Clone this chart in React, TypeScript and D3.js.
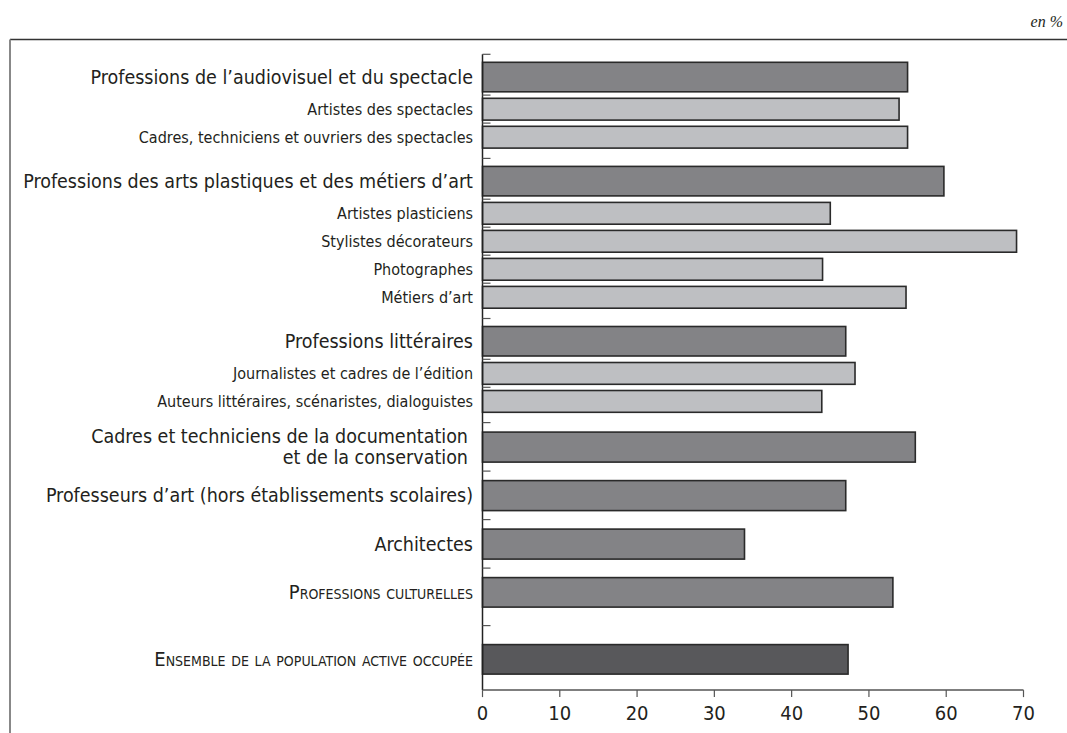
import React from 'react';
import * as d3 from 'd3';

const labels: string[] = [
  "Professions de l\u2019audiovisuel et du spectacle",
  "Artistes des spectacles",
  "Cadres, techniciens et ouvriers des spectacles",
  "Professions des arts plastiques et des m\u00e9tiers d\u2019art",
  "Artistes plasticiens",
  "Stylistes d\u00e9corateurs",
  "Photographes",
  "M\u00e9tiers d\u2019art",
  "Professions litt\u00e9raires",
  "Journalistes et cadres de l\u2019\u00e9dition",
  "Auteurs litt\u00e9raires, sc\u00e9naristes, dialoguistes",
  "Cadres et techniciens de la documentation\net de la conservation",
  "Professeurs d\u2019art (hors \u00e9tablissements scolaires)",
  "Architectes",
  "Professions culturelles",
  "Ensemble de la population active occup\u00e9e",
];
const values: number[] = [55, 53.9, 55, 59.7, 45, 69.1, 44, 54.8, 47, 48.2, 43.9, 56, 47, 33.9, 53.1, 47.3];
const kinds: string[] = ['group', 'sub', 'sub', 'group', 'sub', 'sub', 'sub', 'sub', 'group', 'sub', 'sub', 'single', 'single', 'single', 'summary', 'total'];
const xTicks: number[] = [0, 10, 20, 30, 40, 50, 60, 70];
const unitLabel = 'en %';

const W = 1067;
const H = 733;
const FONT = "'DejaVu Sans Condensed', 'DejaVu Sans', sans-serif";

const layout: Record<string, [number, number, number]> = {
  group: [8, 29.5, 3.3],
  sub: [3.2, 21.8, 3],
  single: [9.5, 30, 9],
  summary: [9.5, 29.5, 18.5],
  total: [19, 29.5, 16],
};
const fills: Record<string, string> = {
  group: '#838386',
  sub: '#bebfc2',
  single: '#838386',
  summary: '#838386',
  total: '#58585b',
};

export default function App() {
  const x = d3.scaleLinear().domain([0, 70]).range([482.5, 1023.5]);
  const y0 = 54.3;
  let cur = y0;
  const rows = labels.map((lab, i) => {
    const k = kinds[i];
    const [pt, h, pbBase] = layout[k];
    let pb = pbBase;
    if (k === 'sub' && kinds[i + 1] !== 'sub') pb = 10.3;
    const top = cur + pt;
    const bottom = top + h;
    cur = bottom + pb;
    return { lab, v: values[i], k, top, h, end: cur };
  });
  const axisY = rows[rows.length - 1].end;
  const boundaries = [y0, ...rows.slice(0, -1).map(r => r.end)];
  const labelX = 473;

  return (
    <svg width={W} height={H} style={{ position: 'absolute', left: 0, top: 0, background: '#fff' }} fontFamily={FONT}>
      {/* frame */}
      <line x1={10} x2={W} y1={39.5} y2={39.5} stroke="#333" strokeWidth={1.5} />
      <line x1={10} x2={10} y1={39.5} y2={H} stroke="#888" strokeWidth={2} />
      <text x={1063} y={27} textAnchor="end" fontFamily="'Liberation Serif', 'DejaVu Serif', serif" fontStyle="italic" fontSize={16} fill="#231f20">{unitLabel}</text>

      {/* bars */}
      {rows.map((r, i) => (
        <rect key={'b' + i} x={x(0)} y={r.top} width={x(r.v) - x(0)} height={r.h}
          fill={fills[r.k]} stroke="#2a2a2a" strokeWidth={1.6} />
      ))}

      {/* y axis */}
      <line x1={x(0)} x2={x(0)} y1={y0} y2={axisY} stroke="#222" strokeWidth={1.5} />
      {boundaries.map((b, i) => (
        <line key={'t' + i} x1={x(0)} x2={x(0) + 8} y1={b} y2={b} stroke="#555" strokeWidth={1.2} />
      ))}

      {/* x axis */}
      <line x1={x(0)} x2={x(70)} y1={axisY} y2={axisY} stroke="#555" strokeWidth={1.5} />
      {xTicks.map(t => (
        <g key={'x' + t}>
          <line x1={x(t)} x2={x(t)} y1={axisY} y2={axisY + 7} stroke="#555" strokeWidth={1.2} />
          <text x={x(t)} y={axisY + 30} textAnchor="middle" fontSize={20} fill="#231f20">{t}</text>
        </g>
      ))}

      {/* labels */}
      {rows.map((r, i) => {
        const lines = r.lab.split('\n');
        const cy = r.top + r.h / 2;
        const isSub = r.k === 'sub';
        const isCaps = r.k === 'summary' || r.k === 'total';
        const fs = isSub ? 16 : isCaps ? 20 : 19.5;
        const lh = 21;
        const ax = lines.length > 1 ? labelX - 5 : labelX;
        return (
          <text key={'l' + i} x={ax} textAnchor="end" fontSize={fs} fill="#231f20"
            style={isCaps ? { fontVariant: 'small-caps' } : undefined}>
            {lines.map((ln, j) => (
              <tspan key={j} x={ax} y={cy + (j - (lines.length - 1) / 2) * lh} dy="0.35em">{ln}</tspan>
            ))}
          </text>
        );
      })}
    </svg>
  );
}
